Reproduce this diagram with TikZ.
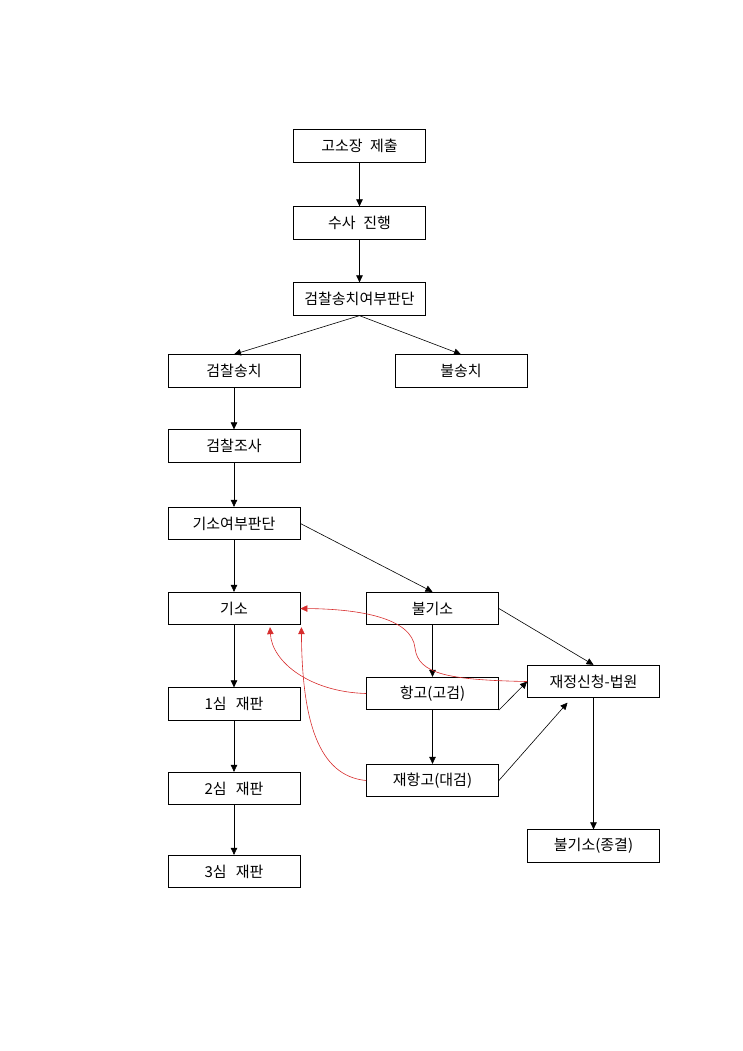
\documentclass[tikz,border=0pt]{standalone}
\usepackage{fontspec}
\newfontfamily\kr{Noto Sans CJK KR}
\usetikzlibrary{arrows.meta,calc}
\definecolor{redline}{RGB}{215,45,45}
\begin{document}
\begin{tikzpicture}[x=1pt,y=-1pt,
  box/.style={draw, line width=0.8pt, minimum width=132pt, minimum height=32.5pt, inner sep=0pt, font=\kr\fontsize{15}{17}\selectfont},
  arr/.style={-{Triangle[length=7pt,width=6.5pt]}, line width=0.6pt},
  redarr/.style={-{Triangle[length=7pt,width=6.5pt,color=redline]}, line width=0.6pt, draw=redline}]
\useasboundingbox (0,0) rectangle (743,1051);
\node[box] (a) at (359.5,146) {고소장\hspace{0.5em}제출};
\node[box] (b) at (359.5,223) {수사\hspace{0.5em}진행};
\node[box] (c) at (359.5,299) {검찰송치여부판단};
\node[box] (d) at (234,371) {검찰송치};
\node[box] (e) at (461,371) {불송치};
\node[box] (f) at (234,446) {검찰조사};
\node[box] (g) at (234,523.5) {기소여부판단};
\node[box] (h) at (234,608.5) {기소};
\node[box] (i) at (432.5,608.5) {불기소};
\node[box] (j) at (593.5,681.5) {재정신청-법원};
\node[box] (k) at (432.5,693.5) {항고(고검)};
\node[box] (l) at (234,704) {1심\hspace{0.6em}재판};
\node[box] (m) at (432.5,780.5) {재항고(대검)};
\node[box] (n) at (234,788.5) {2심\hspace{0.6em}재판};
\node[box] (o) at (593.5,846) {불기소(종결)};
\node[box] (p) at (234,871.5) {3심\hspace{0.6em}재판};
\coordinate (jt) at ($(j.south)+(-26,4.5)$);
\coordinate (hb1) at ($(h.south)+(36,2)$);
\coordinate (hb2) at ($(h.south east)+(1,2)$);
\draw[arr] (a) -- (b);
\draw[arr] (b) -- (c);
\draw[arr] (c.south) -- (d.north);
\draw[arr] (c.south) -- (e.north);
\draw[arr] (d) -- (f);
\draw[arr] (f) -- (g);
\draw[arr] (g) -- (h);
\draw[arr] (g.east) -- (i.north);
\draw[arr] (i.east) -- (j.north);
\draw[arr] (i) -- (k);
\draw[arr] (k) -- (m);
\draw[arr] (k.south east) -- (j.west);
\draw[arr] (m.east) -- (jt);
\draw[arr] (j) -- (o);
\draw[arr] (h) -- (l);
\draw[arr] (l) -- (n);
\draw[arr] (n) -- (p);
\draw[redarr] (j.west) .. controls (448,680) and (418,674) .. (415,648) .. controls (412,618) and (360,609) .. (h.east);
\draw[redarr] (k.west) .. controls (310,692) and (272,662) .. (hb1);
\draw[redarr] (m.west) .. controls (318,776) and (302,720) .. (hb2);
\end{tikzpicture}
\end{document}
